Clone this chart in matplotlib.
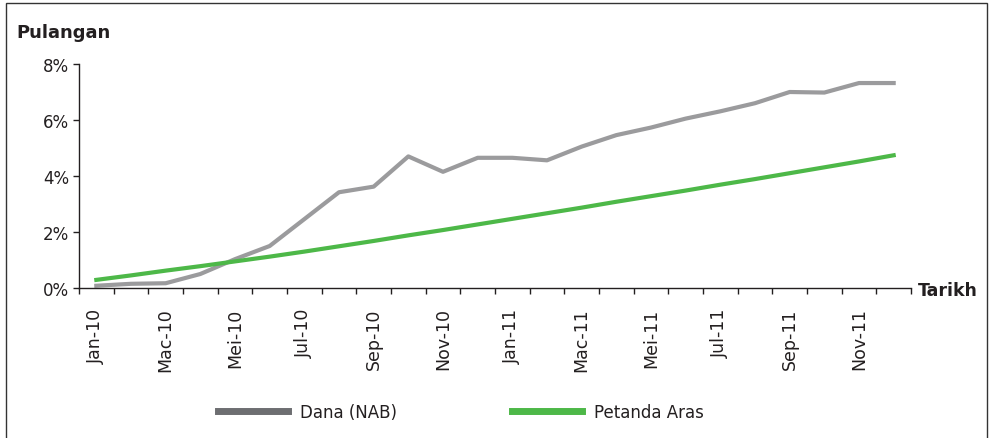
import matplotlib

matplotlib.use("Agg")
import matplotlib.pyplot as plt
import numpy as np
from matplotlib.patches import Rectangle

# monthly data, Jan-10 .. Dis-11 (returns in %)
months = [
    "Jan-10", "Feb-10", "Mac-10", "Apr-10", "Mei-10", "Jun-10",
    "Jul-10", "Ogo-10", "Sep-10", "Okt-10", "Nov-10", "Dis-10",
    "Jan-11", "Feb-11", "Mac-11", "Apr-11", "Mei-11", "Jun-11",
    "Jul-11", "Ogo-11", "Sep-11", "Okt-11", "Nov-11", "Dis-11",
]
dana = [0.08, 0.15, 0.17, 0.50, 1.03, 1.50, 2.46, 3.42, 3.62, 4.70, 4.15, 4.65,
        4.65, 4.56, 5.05, 5.46, 5.73, 6.05, 6.31, 6.60, 7.00, 6.98, 7.32, 7.32]
petanda = [0.29, 0.45, 0.62, 0.78, 0.95, 1.12, 1.30, 1.49, 1.68, 1.88, 2.07, 2.27,
           2.47, 2.67, 2.87, 3.08, 3.28, 3.48, 3.69, 3.89, 4.10, 4.31, 4.52, 4.74]
y_ticks = [0, 2, 4, 6, 8]

GRAY = "#9b9b9d"
GRAY_DARK = "#6d6e71"
GREEN = "#4db848"
TEXT = "#231f20"

plt.rcParams["font.family"] = ["DejaVu Sans"]

fig = plt.figure(figsize=(9.93, 4.39), dpi=100)
ax = fig.add_axes([79 / 993, 1 - 289 / 439, (911 - 79) / 993, (289 - 65) / 439])

x = np.arange(len(months))
ax.plot(x, dana, color=GRAY, linewidth=3, label="Dana (NAB)")
ax.plot(x, petanda, color=GREEN, linewidth=3, label="Petanda Aras")

ax.set_xlim(-0.5, len(months) - 0.5)
ax.set_ylim(0, 8)

ax.set_xticks(x[::2])
ax.set_xticklabels(months[::2], rotation=90, fontsize=12.5, color=TEXT)
ax.set_xticks(np.arange(-0.5, len(months), 1), minor=True)
ax.tick_params(axis="x", which="major", length=0, pad=14)
ax.tick_params(axis="x", which="minor", length=4, width=1, color=TEXT)

ax.set_yticks(y_ticks)
ax.set_yticklabels([f"{v}%" for v in y_ticks], fontsize=12, color=TEXT)
ax.tick_params(axis="y", length=4, width=1, color=TEXT, pad=3)

for side in ("top", "right"):
    ax.spines[side].set_visible(False)
for side in ("left", "bottom"):
    ax.spines[side].set_color(TEXT)
    ax.spines[side].set_linewidth(1)

fig.text(16 / 993, 1 - 33 / 439, "Pulangan", fontsize=13, fontweight="bold",
         color=TEXT, ha="left", va="center")
fig.text(918 / 993, 1 - 291 / 439, "Tarikh", fontsize=12.5, fontweight="bold",
         color=TEXT, ha="left", va="center")

leg = fig.legend(
    loc="center left",
    bbox_to_anchor=(210 / 993, 1 - 413 / 439),
    ncol=2,
    frameon=False,
    fontsize=12,
    handlelength=4.2,
    handletextpad=0.7,
    columnspacing=6.9,
    borderpad=0,
    labelcolor=TEXT,
)
leg.legend_handles[0].set_color(GRAY_DARK)
for h in leg.legend_handles:
    h.set_linewidth(5)

fig.patches.append(
    Rectangle(
        (5.5 / 993, -0.05),
        (986.5 - 5.5) / 993,
        1.05 - 3.5 / 439,
        transform=fig.transFigure,
        fill=False,
        edgecolor="#333333",
        linewidth=1,
    )
)

fig.savefig("out.png", dpi=100)
plt.close(fig)
